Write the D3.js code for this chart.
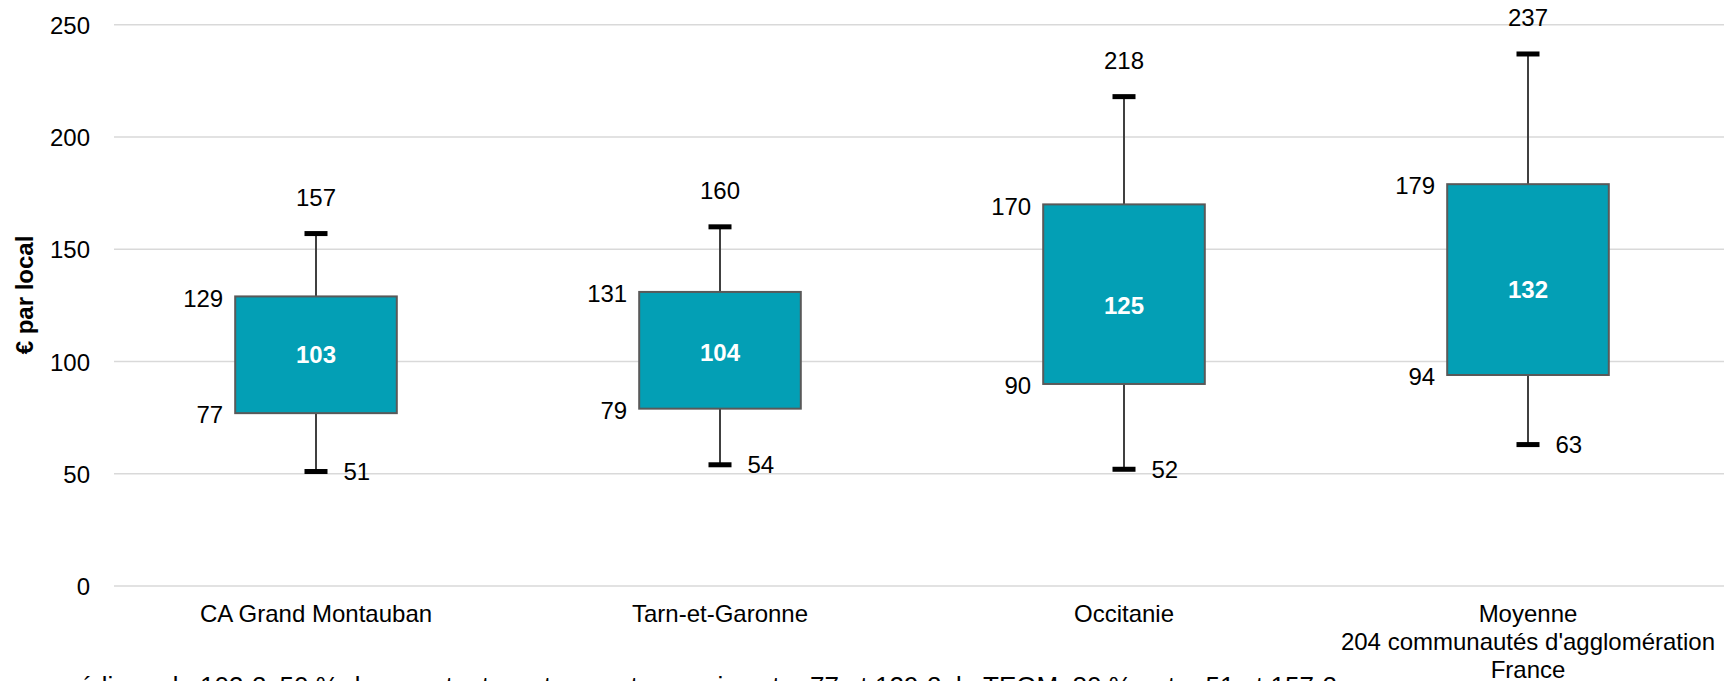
<!DOCTYPE html>
<html>
<head>
<meta charset="utf-8">
<script src="https://cdn.jsdelivr.net/npm/d3@7"></script>
<style>
  html, body { margin: 0; padding: 0; background: #fff; overflow: hidden; }
  svg { display: block; font-family: "Liberation Sans", Arial, sans-serif; }
</style>
</head>
<body>
<svg id="chart" width="1724" height="681"></svg>
<script>
// Territories compared (x-axis categories)
const categories = [
  ["CA Grand Montauban"],
  ["Tarn-et-Garonne"],
  ["Occitanie"],
  ["Moyenne", "204 communautés d'agglomération", "France"]
];
// Distribution of TEOM per local (€): 1st decile, 1st quartile, median, 3rd quartile, 9th decile
const d1     = [51, 54, 52, 63];
const q1     = [77, 79, 90, 94];
const median = [103, 104, 125, 132];
const q3     = [129, 131, 170, 179];
const d9     = [157, 160, 218, 237];

const yTicks = [0, 50, 100, 150, 200, 250];
const yTitle = "€ par local";
const note = "médiane de 103 €, 50 % des montants se trouvent compris entre 77 et 129 € de TEOM, 80 % entre 51 et 157 €";

const svg = d3.select("#chart");
const plotLeft = 114, plotRight = 1730, plotTop = 24.8, plotBottom = 586;

const x = d3.scaleBand()
  .domain(d3.range(categories.length))
  .range([plotLeft, plotRight])
  .paddingInner(0).paddingOuter(0);

const y = d3.scaleLinear().domain([0, 250]).range([plotBottom, plotTop]);

// Horizontal gridlines
svg.append("g")
  .selectAll("line")
  .data(yTicks)
  .join("line")
  .attr("x1", plotLeft).attr("x2", plotRight)
  .attr("y1", d => y(d)).attr("y2", d => y(d))
  .attr("stroke", "#d9d9d9").attr("stroke-width", 1.5);

// Y axis labels
const yAxis = d3.axisLeft(y).tickValues(yTicks).tickSize(0).tickPadding(0);
const gy = svg.append("g").attr("transform", "translate(90,0)").call(yAxis);
gy.select(".domain").remove();
gy.selectAll("text")
  .attr("font-size", 24)
  .attr("fill", "#000")
  .attr("font-family", "Liberation Sans, Arial, sans-serif")
  .attr("dy", "0.36em");

// Y axis title
svg.append("text")
  .attr("transform", "translate(33,295) rotate(-90)")
  .attr("text-anchor", "middle")
  .attr("font-size", 24)
  .attr("font-weight", "bold")
  .text(yTitle);

// Category labels (multi-line)
const catG = svg.append("g");
categories.forEach((lines, i) => {
  const t = catG.append("text")
    .attr("x", x(i) + x.bandwidth() / 2)
    .attr("y", 622)
    .attr("text-anchor", "middle")
    .attr("font-size", 24)
    .attr("fill", "#000");
  lines.forEach((ln, j) => {
    t.append("tspan")
      .attr("x", x(i) + x.bandwidth() / 2)
      .attr("y", 622 + j * 28)
      .text(ln);
  });
});

// Box plots
const boxW = x.bandwidth() * 0.4;
const capW = 23;
const data = categories.map((c, i) => ({
  i, d1: d1[i], q1: q1[i], med: median[i], q3: q3[i], d9: d9[i]
}));

const g = svg.append("g");
data.forEach(d => {
  const cx = x(d.i) + x.bandwidth() / 2;
  // whiskers
  g.append("line")
    .attr("x1", cx).attr("x2", cx)
    .attr("y1", y(d.d9)).attr("y2", y(d.q3))
    .attr("stroke", "#404040").attr("stroke-width", 2);
  g.append("line")
    .attr("x1", cx).attr("x2", cx)
    .attr("y1", y(d.q1)).attr("y2", y(d.d1))
    .attr("stroke", "#404040").attr("stroke-width", 2);
  // caps
  [d.d9, d.d1].forEach(v => {
    g.append("rect")
      .attr("x", cx - capW / 2).attr("y", y(v) - 2.5)
      .attr("width", capW).attr("height", 5)
      .attr("fill", "#000");
  });
  // box
  g.append("rect")
    .attr("x", cx - boxW / 2).attr("y", y(d.q3))
    .attr("width", boxW).attr("height", y(d.q1) - y(d.q3))
    .attr("fill", "#039fb5")
    .attr("stroke", "#595959").attr("stroke-width", 2);

  // value labels
  g.append("text")
    .attr("x", cx).attr("y", y(d.d9) - 28)
    .attr("text-anchor", "middle").attr("font-size", 24).attr("fill", "#000")
    .text(d.d9);
  g.append("text")
    .attr("x", cx - boxW / 2 - 12).attr("y", y(d.q3) + 1.5).attr("dy", "0.36em")
    .attr("text-anchor", "end").attr("font-size", 24).attr("fill", "#000")
    .text(d.q3);
  g.append("text")
    .attr("x", cx - boxW / 2 - 12).attr("y", y(d.q1) + 1.5).attr("dy", "0.36em")
    .attr("text-anchor", "end").attr("font-size", 24).attr("fill", "#000")
    .text(d.q1);
  g.append("text")
    .attr("x", cx + 27.5).attr("y", y(d.d1)).attr("dy", "0.36em")
    .attr("text-anchor", "start").attr("font-size", 24).attr("fill", "#000")
    .text(d.d1);
  g.append("text")
    .attr("x", cx).attr("y", y(d.med)).attr("dy", "0.36em")
    .attr("text-anchor", "middle").attr("font-size", 24)
    .attr("font-weight", "bold").attr("fill", "#fff")
    .text(d.med);
});

// Footnote (runs past the bottom edge of the frame)
svg.append("text")
  .attr("x", 57).attr("y", 695)
  .attr("font-size", 26).attr("fill", "#000")
  .text(note);
</script>
</body>
</html>
